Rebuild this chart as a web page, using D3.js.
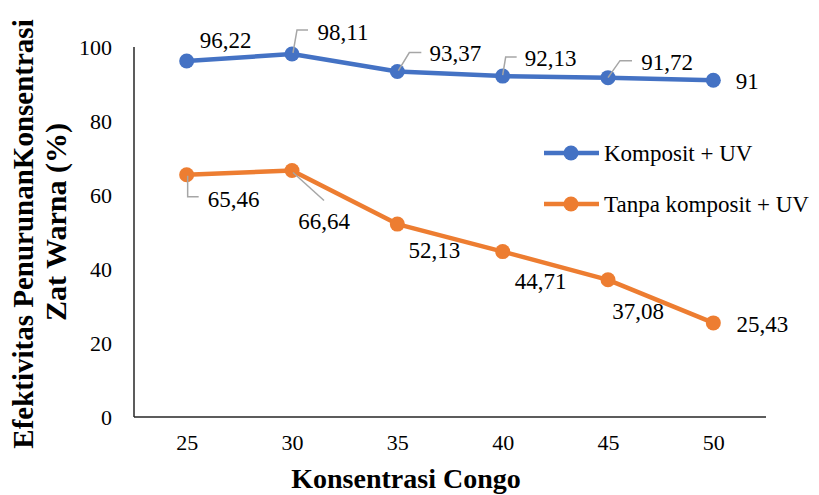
<!DOCTYPE html>
<html>
<head>
<meta charset="utf-8">
<script src="https://cdn.jsdelivr.net/npm/d3@7"></script>
<style>
  html, body { margin: 0; padding: 0; background: #fff; }
  svg { display: block; }
  svg text { font-family: "Liberation Serif", "Times New Roman", serif; fill: #000; }
</style>
</head>
<body>
<svg id="chart" width="819" height="495"></svg>
<script>
// Congo concentration levels (x axis categories)
const categories = ["25", "30", "35", "40", "45", "50"];
// Removal effectiveness (%) for each treatment
const kompositUV = [96.22, 98.11, 93.37, 92.13, 91.72, 91];
const tanpaKompositUV = [65.46, 66.64, 52.13, 44.71, 37.08, 25.43];
const yTicks = [0, 20, 40, 60, 80, 100];
const seriesNames = ["Komposit + UV", "Tanpa komposit + UV"];

const fmt = v => String(v).replace(".", ",");

const svg = d3.select("#chart");
const plot = { left: 134, right: 766, top: 47, bottom: 417 };

const x = d3.scalePoint().domain(categories).range([plot.left, plot.right]).padding(0.5);
const y = d3.scaleLinear().domain([0, 100]).range([plot.bottom, plot.top]);

// Label placement (offset of label centre from its point) and leader lines
const series = [
  {
    name: seriesNames[0], values: kompositUV, color: "#4472C4",
    labelOffsets: [[39, -21], [51, -22], [58, -18.5], [48, -18], [59, -15.6], [34, 1]],
    leaders: [null, [[1, -1], [5, -24], [16, -24]], [[1, -1], [12, -19], [24, -19]],
              [[0, -1], [3, -19], [14, -19]], [[0, 0], [12, -17], [24, -17]], null]
  },
  {
    name: seriesNames[1], values: tanpaKompositUV, color: "#ED7D31",
    labelOffsets: [[47, 24], [32, 51], [37, 26], [38, 30], [30, 31], [49, 1]],
    leaders: [[[1, 1], [1, 22], [12, 22]], [[1, 2], [32, 30]], null, null, null, null]
  }
];

// Axes (lines only, no tick marks)
const yAxis = d3.axisLeft(y).tickValues(yTicks).tickSize(0).tickPadding(22);
const yG = svg.append("g").attr("transform", `translate(${plot.left},0)`).call(yAxis);
yG.attr("font-family", null);
yG.select(".domain").attr("stroke", "#262626").attr("stroke-width", 1.5)
  .attr("d", `M0,${plot.top}V${plot.bottom}`);
yG.selectAll(".tick text").attr("font-size", 22).attr("fill", "#000").attr("dy", "0.34em");

const xAxis = d3.axisBottom(x).tickSize(0).tickPadding(22);
const xG = svg.append("g").attr("transform", `translate(0,${plot.bottom})`).call(xAxis);
xG.attr("font-family", null);
xG.select(".domain").attr("stroke", "#262626").attr("stroke-width", 1.5)
  .attr("d", `M${plot.left},0H${plot.right}`);
xG.selectAll(".tick text").attr("font-size", 22).attr("fill", "#000").attr("dy", "0.5em");

// Axis titles
svg.append("text")
  .attr("x", 406).attr("y", 488)
  .attr("text-anchor", "middle")
  .attr("font-size", 28).attr("font-weight", "bold")
  .text("Konsentrasi Congo");

svg.append("text")
  .attr("transform", "translate(33,234) rotate(-90)")
  .attr("text-anchor", "middle")
  .attr("font-size", 29).attr("font-weight", "bold")
  .text("Efektivitas PenurunanKonsentrasi");
svg.append("text")
  .attr("transform", "translate(66,222) rotate(-90)")
  .attr("text-anchor", "middle")
  .attr("font-size", 30).attr("font-weight", "bold")
  .text("Zat Warna (%)");

// Series lines and markers
const line = d3.line().x((d, i) => x(categories[i])).y(d => y(d));
series.forEach(s => {
  svg.append("path")
    .datum(s.values)
    .attr("d", line)
    .attr("fill", "none")
    .attr("stroke", s.color)
    .attr("stroke-width", 4.5)
    .attr("stroke-linejoin", "round");
  svg.append("g").selectAll("circle")
    .data(s.values)
    .join("circle")
    .attr("cx", (d, i) => x(categories[i]))
    .attr("cy", d => y(d))
    .attr("r", 7.5)
    .attr("fill", s.color);
});

// Leader lines and data labels
series.forEach(s => {
  s.values.forEach((v, i) => {
    const px = x(categories[i]), py = y(v);
    const ld = s.leaders[i];
    if (ld) {
      svg.append("path")
        .attr("d", d3.line()(ld.map(([dx, dy]) => [px + dx, py + dy])))
        .attr("fill", "none")
        .attr("stroke", "#A6A6A6")
        .attr("stroke-width", 1.5);
    }
    const [ox, oy] = s.labelOffsets[i];
    svg.append("text")
      .attr("x", px + ox).attr("y", py + oy)
      .attr("dy", "0.34em")
      .attr("text-anchor", "middle")
      .attr("font-size", 23)
      .text(fmt(v));
  });
});

// Legend
const legendY = [153, 204];
series.forEach((s, i) => {
  const g = svg.append("g").attr("transform", `translate(0,${legendY[i]})`);
  g.append("line").attr("x1", 544).attr("x2", 599).attr("y1", 0).attr("y2", 0)
    .attr("stroke", s.color).attr("stroke-width", 4.5);
  g.append("circle").attr("cx", 571).attr("cy", 0).attr("r", 7.5).attr("fill", s.color);
  g.append("text").attr("x", 604).attr("y", 0).attr("dy", "0.34em")
    .attr("font-size", 23).text(s.name);
});
</script>
</body>
</html>
